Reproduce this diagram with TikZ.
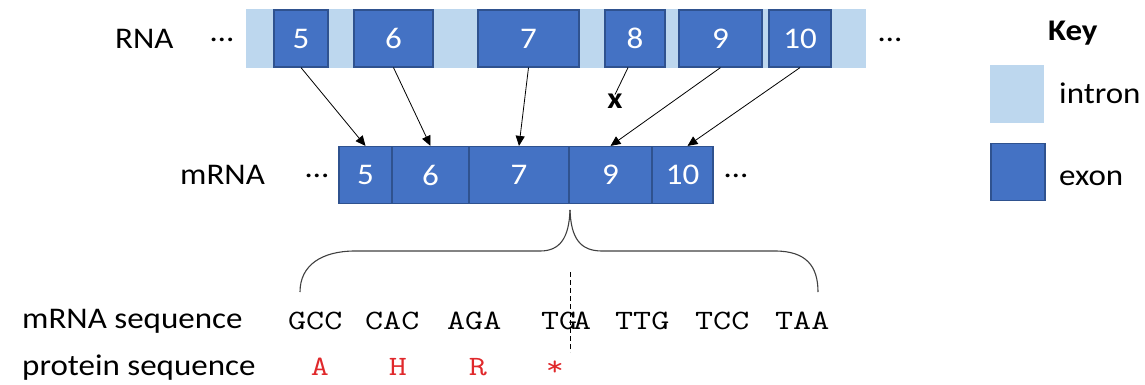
\documentclass[tikz,border=0pt]{standalone}
\usepackage{graphicx}
\usepackage{fontspec}
\setmainfont{Carlito}
\usetikzlibrary{arrows.meta}
\definecolor{exonblue}{HTML}{4472C4}
\definecolor{exonedge}{HTML}{2F528F}
\definecolor{intronblue}{HTML}{BDD7EE}
\definecolor{protred}{HTML}{E0282B}
\definecolor{bracegray}{HTML}{404040}
\newcommand{\hs}[1]{\scalebox{1.1}[1]{#1}}
\newcommand{\hsm}[1]{\scalebox{1.25}[1]{#1}}
\newcommand{\bigfnt}{\fontsize{30}{34}\selectfont}
\newcommand{\seqfnt}{\ttfamily\fontsize{28}{32}\selectfont}
\tikzset{
  exonbox/.style={draw=exonedge, fill=exonblue, line width=1.2pt, text=white, inner sep=0pt, font=\bigfnt, minimum height=57},
  mexon/.style={exonbox, minimum height=57},
  lbl/.style={inner sep=0pt, font=\bigfnt, anchor=base west},
  dots/.style={inner sep=0pt, font=\bigfnt, anchor=base},
  codon/.style={inner sep=0pt, font=\seqfnt, anchor=base west},
  aa/.style={inner sep=0pt, font=\seqfnt, anchor=base, text=protred},
  conn/.style={line width=0.8pt, -{Triangle[length=10pt,width=9pt]}},
  bracepath/.style={line width=1.1pt, draw=bracegray},
}
\begin{document}
\begin{tikzpicture}[x=1pt,y=-1pt]
\useasboundingbox (0,0) rectangle (1145,384);
% RNA
\node[lbl] (rnalbl) at (115,48) {\hs{RNA}};
\node[dots] (rnadl) at (222,41) {\hs{…}};
\node[fill=intronblue, inner sep=0pt, minimum width=620, minimum height=59] (bar) at (556,38.5) {};
\node[exonbox, minimum width=54] (e5) at (301,38.5) {\hs{5}};
\node[exonbox, minimum width=79] (e6) at (393.5,38.5) {\hs{6}};
\node[exonbox, minimum width=101] (e7) at (528.5,38.5) {\hs{7}};
\node[exonbox, minimum width=60] (e8) at (635,38.5) {\hs{8}};
\node[exonbox, minimum width=83] (e9) at (720.5,38.5) {\hs{9}};
\node[exonbox, minimum width=62] (e10) at (800,38.5) {\hs{10}};
\node[dots] (rnadr) at (890,41) {\hs{…}};
% mRNA
\node[lbl] (mrnalbl) at (180,184) {\hs{mRNA}};
\node[dots] (mdl) at (317,177) {\hs{…}};
\node[mexon, minimum width=53] (m5) at (365.5,175) {\hs{5}};
\node[mexon, minimum width=77] (m6) at (430.5,175) {\hs{6}};
\node[mexon, minimum width=100] (m7) at (519,175) {\hs{7}};
\node[mexon, minimum width=83] (m9) at (610.5,175) {\hs{9}};
\node[mexon, minimum width=61] (m10) at (682.5,175) {\hs{10}};
\node[dots] (mdr) at (736,177) {\hs{…}};
% x mark
\node[inner sep=0pt, font=\bigfnt\bfseries] (xmark) at (615,101) {\hs{x}};
% connectors
\draw[conn] (e5.south) -- (m5.north);
\draw[conn] (e6.south) -- (m6.north);
\draw[conn] (e7.south) -- (m7.north);
\draw[conn] (e9.south) -- (m9.north);
\draw[conn] (e10.south) -- ([xshift=5pt]m10.north);
\draw[line width=0.8pt] ([xshift=-7pt]e8.south) -- ([yshift=-1pt]xmark.north);
% brace
\coordinate (tip) at (570,210);
\draw[bracepath] (300,292) .. controls (300,265) and (322,251) .. (355,251) -- (540,251) .. controls (560,251) and (569,238) .. (tip);
\draw[bracepath] (tip) .. controls (571,238) and (580,251) .. (602,251) -- (775,251) .. controls (806,251) and (818,266) .. (818,292);
% sequences
\node[lbl] (seqlbl) at (22,328) {\hs{mRNA sequence}};
\node[lbl] (protlbl) at (22,375) {\hs{protein sequence}};
\node[codon] (c1) at (288,329) {\hsm{GCC}};
\node[codon] (c2) at (365,329) {\hsm{CAC}};
\node[codon] (c3) at (447,329) {\hsm{AGA}};
\node[codon] (c4) at (541,329) {\hsm{TG}};
\node[codon] (c5) at (573,329) {\hsm{A}};
\node[codon] (c6) at (615,329) {\hsm{TTG}};
\node[codon] (c7) at (695,329) {\hsm{TCC}};
\node[codon] (c8) at (775,329) {\hsm{TAA}};
\node[aa] (a1) at (320,375) {\hsm{A}};
\node[aa] (a2) at (398,375) {\hsm{H}};
\node[aa] (a3) at (478,375) {\hsm{R}};
\node[aa] (a4) at (555,375) {\hsm{*}};
\coordinate (dtop) at (570,272);
\coordinate (dbot) at (570,352);
\draw[line width=0.9pt, dash pattern=on 5pt off 3pt] (dtop) -- (dbot);
% key
\node[lbl, font=\bigfnt\bfseries] (keylbl) at (1048,40) {\hs{Key}};
\node[fill=intronblue, inner sep=0pt, minimum width=54, minimum height=58] (kint) at (1017,94) {};
\node[exonbox, minimum width=54, minimum height=57] (kex) at (1018,172) {};
\node[lbl] (intlbl) at (1059,103) {\hs{intron}};
\node[lbl] (exlbl) at (1059,185) {\hs{exon}};
\end{tikzpicture}
\end{document}
